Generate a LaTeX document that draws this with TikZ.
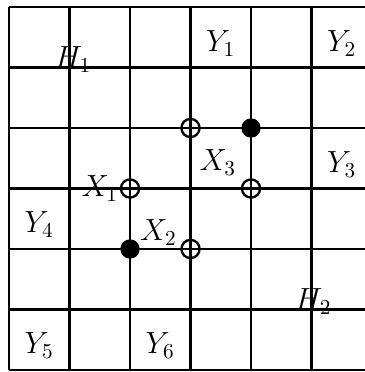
\documentclass[tikz,border=0pt]{standalone}
\usetikzlibrary{positioning}

\begin{document}
\begin{tikzpicture}[
    grid/.style={line width=1.1pt},
    ctrl/.style={circle, fill, inner sep=0pt, minimum size=0.32cm},
    targ/.style={circle, draw, line width=1.1pt, inner sep=0pt, minimum size=0.3cm,
      path picture={\draw[line width=1.1pt]
        (path picture bounding box.north) -- (path picture bounding box.south)
        (path picture bounding box.west) -- (path picture bounding box.east);}},
    link/.style={line width=1.1pt},
    lbl/.style={inner sep=0pt, font=\Large}
  ]
    \clip (-0.149,-0.033) rectangle (5.884,6.116);

    % lattice
    \foreach \i in {0,...,5} \draw[grid] (\i,0) -- (\i,6);
    \foreach \j in {0,...,6} \draw[grid] (0,\j) -- (6,\j);

    % gates
    \node[ctrl] (c1) at (2,2) {};
    \node[ctrl] (c2) at (4,4) {};
    \node[targ] (x1) at (2,3) {};
    \node[targ] (x2) at (3,2) {};
    \node[targ] (x3) at (4,3) {};
    \node[targ] (t4) at (3,4) {};

    \path[link]
    (c1) edge (x1)
    (c1) edge (x2)
    (c2) edge (t4)
    (c2) edge (x3);

    % labels
    \node[lbl, left=0.02cm of x1] (lx1) {$X_1$};
    \node[lbl, above left=-0.07cm and 0.1cm of x2] (lx2) {$X_2$};
    \node[lbl, above left=0.09cm and 0.12cm of x3] (lx3) {$X_3$};

    \node[lbl] (y1) at (3.5,5.4) {$Y_1$};
    \node[lbl] (y2) at (5.5,5.4) {$Y_2$};
    \node[lbl] (y3) at (5.5,3.4) {$Y_3$};
    \node[lbl] (y4) at (0.5,2.4) {$Y_4$};
    \node[lbl] (y5) at (0.5,0.4) {$Y_5$};
    \node[lbl] (y6) at (2.5,0.4) {$Y_6$};

    \node[lbl, anchor=base] (h1) at (1.06,5) {$H_1$};
    \node[lbl, anchor=base] (h2) at (5.03,1) {$H_2$};
\end{tikzpicture}
\end{document}
